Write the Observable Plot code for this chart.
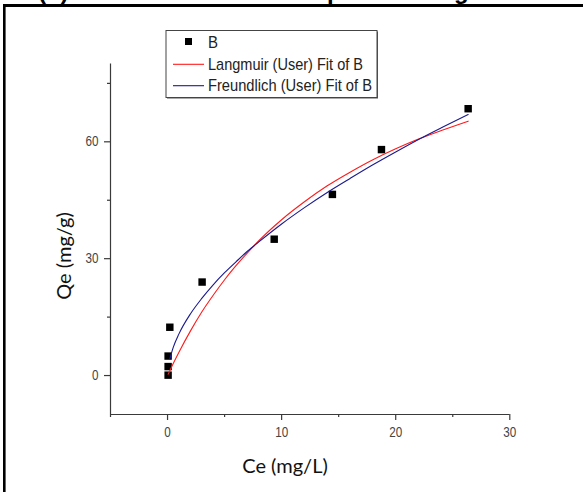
<!DOCTYPE html>
<html><head><meta charset="utf-8">
<script src="https://cdn.jsdelivr.net/npm/d3@7"></script>
<script src="https://cdn.jsdelivr.net/npm/@observablehq/plot@0.6"></script>
<style>
html,body{margin:0;padding:0;background:#fff;overflow:hidden;}
#wrap{position:relative;width:583px;height:492px;}
#chart{position:absolute;left:0;top:0;}
#ov{position:absolute;left:0;top:0;pointer-events:none;overflow:visible;}
</style></head><body>
<div id="wrap">
<div id="chart"></div>
<svg id="ov" width="583" height="492"></svg>
</div>
<script>
// Experimental points (series "B")
const ceB = [0.05, 0.05, 0.05, 0.2, 3.03, 9.35, 14.45, 18.75, 26.35];
const qeB = [0.1, 2.3, 5.0, 12.4, 24.0, 35.0, 46.5, 58.0, 68.5];
// Langmuir (User) Fit of B
const langCe = [0.05, 0.5, 1, 2, 3, 4, 5, 6, 7, 8, 10, 12, 14, 16, 18, 20, 22, 24, 26.35];
const langQe = [0.32, 3.1, 6.0, 11.4, 16.3, 20.6, 24.6, 28.2, 31.5, 34.6, 40.0, 44.6, 48.7, 52.2, 55.4, 58.2, 60.7, 62.9, 65.3];
// Freundlich (User) Fit of B
const freCe = [0.2, 0.5, 1, 2, 3, 4, 5, 6, 7, 8, 10, 12, 14, 16, 18, 20, 22, 24, 26.35];
const freQe = [4.3, 7.25, 10.7, 15.8, 19.8, 23.3, 26.4, 29.2, 31.9, 34.3, 38.9, 43.1, 47.0, 50.6, 54.1, 57.4, 60.6, 63.6, 67.0];
// Axes
const xDomain = [-5, 30];
const yDomain = [-10, 80];
const xTicks = [0, 10, 20, 30];
const xMinor = [-5, 5, 15, 25];
const yTicks = [0, 30, 60];
const yMinor = [15, 45, 75];
const xTitle = "Ce (mg/L)";
const yTitle = "Qe (mg/g)";
const legendLabels = ["B", "Langmuir (User) Fit of B", "Freundlich (User) Fit of B"];
const colors = {B: "#000000", lang: "#ff1a1a", fre: "#1a1a8f"};

const pts = ceB.map((c, i) => ({ce: c, qe: qeB[i]}));
const lang = langCe.map((c, i) => ({ce: c, qe: langQe[i]}));
const fre = freCe.map((c, i) => ({ce: c, qe: freQe[i]}));

const sans = "'Liberation Sans',Arial,sans-serif";
const axisColor = "#3a3a3a";

const chart = Plot.plot({
  width: 583, height: 492,
  marginLeft: 110, marginRight: 73.7, marginTop: 63.4, marginBottom: 78,
  x: {domain: xDomain},
  y: {domain: yDomain},
  style: {background: "transparent", fontFamily: sans, fontSize: "14px", color: axisColor, overflow: "visible"},
  marks: [
    Plot.ruleY([yDomain[0]], {stroke: axisColor, strokeWidth: 1.2}),
    Plot.ruleX([xDomain[0]], {stroke: axisColor, strokeWidth: 1.2}),
    Plot.axisX({ticks: xTicks, tickSize: 6, tickPadding: 7, label: null, stroke: axisColor, strokeWidth: 1.2, fill: "#444"}),
    Plot.axisX({ticks: xMinor, tickSize: 3, tickFormat: () => "", label: null, stroke: axisColor, strokeWidth: 1.2}),
    Plot.axisY({ticks: yTicks, tickSize: 6, tickPadding: 6, label: null, stroke: axisColor, strokeWidth: 1.2, fill: "#444"}),
    Plot.axisY({ticks: yMinor, tickSize: 3, tickFormat: () => "", label: null, stroke: axisColor, strokeWidth: 1.2}),
    Plot.dot(pts, {x: "ce", y: "qe", symbol: "square", r: 4.2, fill: colors.B, stroke: "none"}),
    Plot.line(lang, {x: "ce", y: "qe", stroke: colors.lang, strokeWidth: 1.1, curve: "monotone-x"}),
    Plot.line(fre, {x: "ce", y: "qe", stroke: colors.fre, strokeWidth: 1.1, curve: "monotone-x"})
  ]
});
document.getElementById("chart").appendChild(chart);
// narrow the tick labels (the reference uses a condensed face)
d3.select(chart).selectAll("g[aria-label$='tick label'] text").each(function() {
  const t = this.textContent;
  if (t) d3.select(this).attr("textLength", t.length * 6.5).attr("lengthAdjust", "spacingAndGlyphs");
});

// Overlay: frame, cut-off title, axis titles, legend
const ov = d3.select("#ov");
const title = ov.append("text").attr("font-family", sans)
  .attr("font-weight", "bold").attr("font-size", 24).attr("y", -1).attr("fill", "#000");
title.append("tspan").attr("x", 38).text("(b)");
title.append("tspan").attr("x", 219).text("Isotherm plots");
title.append("tspan").attr("x", 402).text("fitting");
ov.append("rect").attr("x", 3).attr("y", 4).attr("width", 580).attr("height", 3).attr("fill", "#000");
ov.append("rect").attr("x", 3).attr("y", 4).attr("width", 2.6).attr("height", 488).attr("fill", "#000");

ov.append("text").attr("x", 285).attr("y", 473).attr("text-anchor", "middle")
  .attr("font-family", "Lato,'Open Sans',sans-serif").attr("font-size", 20).attr("fill", "#111").text(xTitle);
ov.append("text").attr("transform", "translate(71,256) rotate(-90)").attr("text-anchor", "middle")
  .attr("font-family", "Lato,'Open Sans',sans-serif").attr("font-size", 20).attr("fill", "#111").text(yTitle);

const lg = ov.append("g");
lg.append("rect").attr("x", 167).attr("y", 31.5).attr("width", 211).attr("height", 67).attr("fill", "#555");
lg.append("rect").attr("x", 166).attr("y", 30.5).attr("width", 211).attr("height", 67).attr("fill", "#fff").attr("stroke", "#444").attr("stroke-width", 1);
lg.append("rect").attr("x", 185).attr("y", 38).attr("width", 7).attr("height", 7).attr("fill", colors.B);
lg.append("line").attr("x1", 173).attr("x2", 204).attr("y1", 64.3).attr("y2", 64.3).attr("stroke", colors.lang).attr("stroke-width", 1.1);
lg.append("line").attr("x1", 173).attr("x2", 204).attr("y1", 85.7).attr("y2", 85.7).attr("stroke", colors.fre).attr("stroke-width", 1.1);
const ys = [48.3, 69.6, 90.6];
const widths = [10, 155, 164];
legendLabels.forEach((t, i) => {
  lg.append("text").attr("x", 208).attr("y", ys[i]).attr("font-family", sans)
    .attr("font-size", 17).attr("fill", "#222")
    .attr("textLength", widths[i]).attr("lengthAdjust", "spacingAndGlyphs").text(t);
});
</script>
</body></html>
